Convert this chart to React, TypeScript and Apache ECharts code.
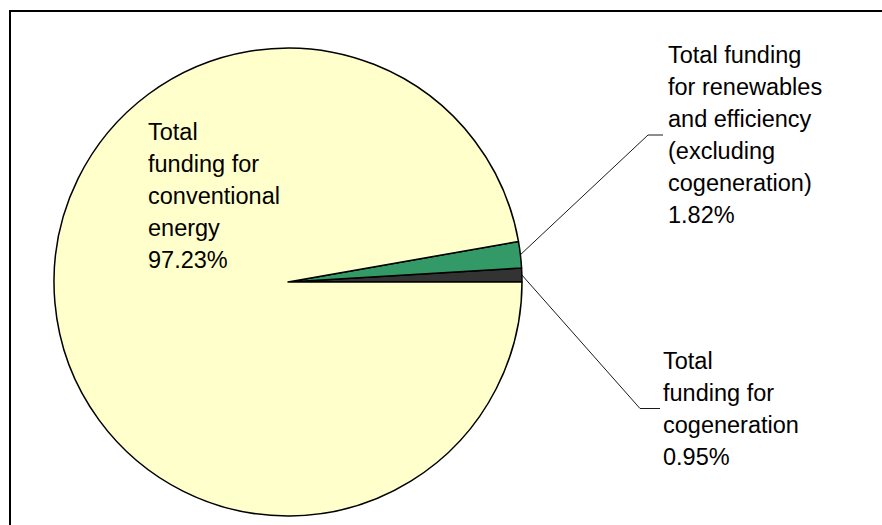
import React, { useEffect, useRef } from "react";
import * as echarts from "echarts";

const categories = [
  "Total\nfunding for\ncogeneration",
  "Total funding\nfor renewables\nand efficiency\n(excluding\ncogeneration)",
  "Total\nfunding for\nconventional\nenergy",
];
const shares = [0.95, 1.82, 97.23];
const sliceColors = ["#333333", "#339966", "#FFFFCC"];

export default function App() {
  const ref = useRef<HTMLDivElement>(null);
  useEffect(() => {
    if (!ref.current) return;
    const chart = echarts.init(ref.current, null, { renderer: "svg" });
    const labelPos = [
      { x: 660, y: 408.5, pad: 3, len2: 20 },
      { x: 663, y: 135, pad: 5, len2: 15 },
      { x: 148, y: 195.5, pad: 0, len2: 0 },
    ];
    chart.setOption({
      animation: false,
      backgroundColor: "#ffffff",
      graphic: [
        {
          type: "rect",
          shape: { x: 10, y: 11, width: 900, height: 600 },
          style: { fill: "none", stroke: "#000", lineWidth: 2 },
          silent: true,
        },
      ],
      series: [
        {
          type: "pie",
          center: [288, 282],
          radius: 234,
          startAngle: 0,
          clockwise: false,
          avoidLabelOverlap: false,
          itemStyle: { borderColor: "#000", borderWidth: 1.5 },
          label: {
            show: true,
            position: "outside",
            formatter: "{b}\n{d}%",
            color: "#000",
            fontFamily: "Liberation Sans, Arial, sans-serif",
            fontSize: 23.5,
            lineHeight: 32,
            align: "left",
          },
          labelLine: {
            show: true,
            length: 10,
            length2: 15,
            lineStyle: { color: "#000", width: 0.9 },
          },
          labelLayout: (params: any) => {
            const p = labelPos[params.dataIndex];
            return { x: p.x, y: p.y, align: "left", verticalAlign: "middle" };
          },
          data: categories.map((name, i) => ({
            name,
            value: shares[i],
            itemStyle: { color: sliceColors[i] },
            label: { padding: [0, 0, 0, labelPos[i].pad] },
            labelLine: i === 2 ? { show: false } : { show: true, length2: labelPos[i].len2 },
          })),
        },
      ],
    });
    return () => chart.dispose();
  }, []);
  return (
    <div
      ref={ref}
      style={{ position: "fixed", left: 0, top: 0, width: 882, height: 525 }}
    />
  );
}
